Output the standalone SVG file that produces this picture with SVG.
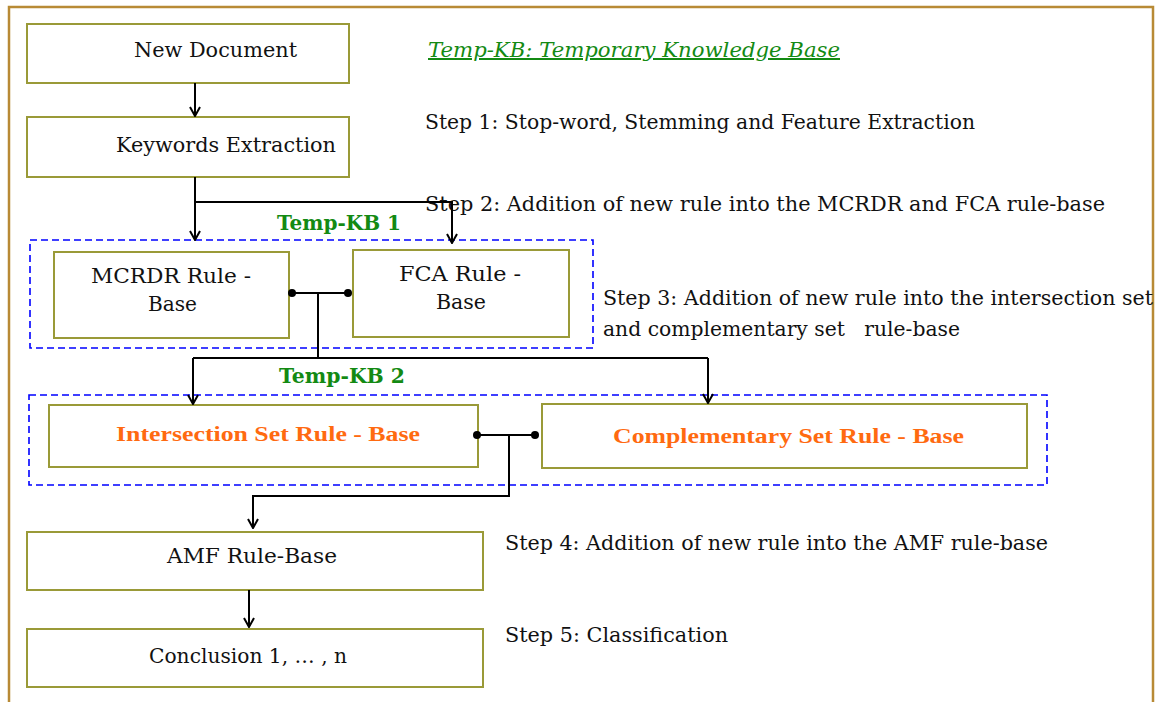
<svg xmlns="http://www.w3.org/2000/svg" width="1158" height="702" viewBox="0 0 1158 702">
<defs>
<style>
.frame{fill:none;stroke:#B88A35;stroke-width:2.5}
.box{fill:#FFFFFF;stroke:#9A9A38;stroke-width:2}
.kb{fill:none;stroke:#0000FF;stroke-width:1.6;stroke-dasharray:7,4}
.t{font-family:"DejaVu Serif","Liberation Serif",serif;font-size:20px;fill:#111;white-space:pre}
.g{font-family:"DejaVu Serif","Liberation Serif",serif;font-size:20px;font-weight:bold;fill:#138A13}
.gi{font-family:"DejaVu Serif","Liberation Serif",serif;font-size:20px;font-style:italic;fill:#138A13;text-decoration:underline}
.o{font-family:"Liberation Serif","DejaVu Serif",serif;font-size:22px;font-weight:bold;fill:#FF6A10}
.ln{fill:none;stroke:#000;stroke-width:2}
.dot{fill:#000}
</style>
<marker id="arr" viewBox="0 0 12 12" refX="11" refY="6" markerWidth="12" markerHeight="12" markerUnits="userSpaceOnUse" orient="auto">
<path d="M2,1 L11,6 L2,11" fill="none" stroke="#000" stroke-width="2"/>
</marker>
</defs>
<rect width="1158" height="702" fill="#FFFFFF"/>
<path class="frame" d="M9,710 L9,7 L1153,7 L1153,710"/>

<g id="legend">
<text class="gi" x="428" y="57" textLength="412" lengthAdjust="spacingAndGlyphs">Temp-KB: Temporary Knowledge Base</text>
</g>
<g id="steps">
<text class="t" x="425" y="129" textLength="550" lengthAdjust="spacingAndGlyphs">Step 1: Stop-word, Stemming and Feature Extraction</text>
<text class="t" x="425" y="211" textLength="680" lengthAdjust="spacingAndGlyphs">Step 2: Addition of new rule into the MCRDR and FCA rule-base</text>
<text class="t" x="603" y="305" textLength="550" lengthAdjust="spacingAndGlyphs">Step 3: Addition of new rule into the intersection set</text>
<text class="t" x="603" y="336" textLength="357" lengthAdjust="spacingAndGlyphs" xml:space="preserve">and complementary set   rule-base</text>
<text class="t" x="505" y="550" textLength="543" lengthAdjust="spacingAndGlyphs">Step 4: Addition of new rule into the AMF rule-base</text>
<text class="t" x="505" y="642" textLength="223" lengthAdjust="spacingAndGlyphs">Step 5: Classification</text>
</g>

<g id="tempkb1">
<rect class="kb" x="30" y="240" width="563" height="108"/>
<text class="g" x="277" y="230" textLength="124" lengthAdjust="spacingAndGlyphs">Temp-KB 1</text>
</g>
<g id="tempkb2">
<rect class="kb" x="29" y="395" width="1018" height="90"/>
<text class="g" x="279" y="383" textLength="126" lengthAdjust="spacingAndGlyphs">Temp-KB 2</text>
</g>

<g id="new-document">
<rect class="box" x="27" y="24" width="322" height="59"/>
<text class="t" x="134" y="57" textLength="163" lengthAdjust="spacingAndGlyphs">New Document</text>
</g>
<g id="keywords-extraction">
<rect class="box" x="27" y="117" width="322" height="60"/>
<text class="t" x="116" y="152" textLength="220" lengthAdjust="spacingAndGlyphs">Keywords Extraction</text>
</g>
<g id="mcrdr">
<rect class="box" x="54" y="252" width="235" height="86"/>
<text class="t" x="91" y="283" textLength="160" lengthAdjust="spacingAndGlyphs">MCRDR Rule -</text>
<text class="t" x="148" y="311" textLength="49" lengthAdjust="spacingAndGlyphs">Base</text>
</g>
<g id="fca">
<rect class="box" x="353" y="250" width="216" height="87"/>
<text class="t" x="399" y="281" textLength="122" lengthAdjust="spacingAndGlyphs">FCA Rule -</text>
<text class="t" x="436" y="309" textLength="50" lengthAdjust="spacingAndGlyphs">Base</text>
</g>
<g id="intersection">
<rect class="box" x="49" y="405" width="429" height="62"/>
<text class="o" x="116" y="441" textLength="304" lengthAdjust="spacingAndGlyphs">Intersection Set Rule - Base</text>
</g>
<g id="complementary">
<rect class="box" x="542" y="404" width="485" height="64"/>
<text class="o" x="613" y="443" textLength="351" lengthAdjust="spacingAndGlyphs">Complementary Set Rule - Base</text>
</g>
<g id="amf">
<rect class="box" x="27" y="532" width="456" height="58"/>
<text class="t" x="167" y="563" textLength="170" lengthAdjust="spacingAndGlyphs">AMF Rule-Base</text>
</g>
<g id="conclusion">
<rect class="box" x="27" y="629" width="456" height="58"/>
<text class="t" x="149" y="663" textLength="198" lengthAdjust="spacingAndGlyphs">Conclusion 1, … , n</text>
</g>

<g id="connectors">
<path class="ln" d="M195,83 L195,116" marker-end="url(#arr)"/>
<path class="ln" d="M195,177 L195,240" marker-end="url(#arr)"/>
<path class="ln" d="M195,202 L452,202 L452,243" marker-end="url(#arr)"/>
<path class="ln" d="M292,293 L348,293"/>
<circle class="dot" cx="292" cy="293" r="4"/>
<circle class="dot" cx="348" cy="293" r="4"/>
<path class="ln" d="M318,293 L318,358"/>
<path class="ln" d="M193,358 L708,358"/>
<path class="ln" d="M193,358 L193,404" marker-end="url(#arr)"/>
<path class="ln" d="M708,358 L708,403" marker-end="url(#arr)"/>
<path class="ln" d="M477,435 L535,435"/>
<circle class="dot" cx="477" cy="435" r="4"/>
<circle class="dot" cx="535" cy="435" r="4"/>
<path class="ln" d="M509,435 L509,496 L253,496 L253,528" marker-end="url(#arr)"/>
<path class="ln" d="M249,590 L249,627" marker-end="url(#arr)"/>
</g>
</svg>
